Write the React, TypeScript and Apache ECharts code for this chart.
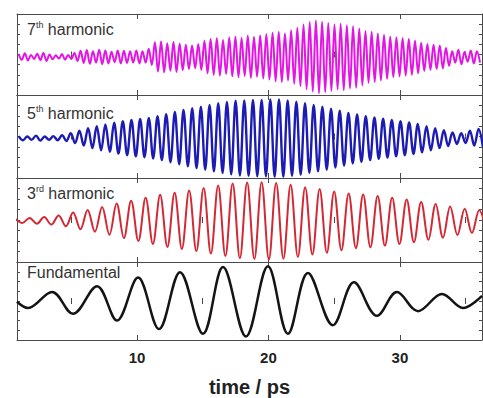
import React, { useEffect, useRef } from "react";
import * as echarts from "echarts";

// ---------- axis data ----------
const X_MIN = 0.875;
const X_MAX = 36.24;
const xMajorTicks = [10, 20, 30];
const xMinorTicks = [5, 15, 25, 35];
const xTitle = "time / ps";

// ---------- panel labels (top to bottom) ----------
const labelNumbers = ["7", "5", "3", ""];
const labelSups = ["th", "th", "rd", ""];
const labelRests = [" harmonic", " harmonic", " harmonic", "Fundamental"];
const seriesNames = ["7th harmonic", "5th harmonic", "3rd harmonic", "Fundamental"];
const seriesColors = ["#E414E4", "#1C1CB4", "#D42834", "#141414"];

// ---------- Fundamental: extrema ----------
const fundTimes = [0.87, 1.71, 3.54, 5.13, 6.96, 8.48, 10.08, 11.67, 13.27, 15.02, 16.54, 18.29, 19.96, 21.48, 23.0, 24.9, 26.5, 28.25, 29.77, 31.37, 33.2, 34.79, 36.24];
const fundValues = [-0.02, -0.18, 0.23, -0.33, 0.38, -0.5, 0.6, -0.72, 0.74, -0.84, 0.87, -0.91, 0.89, -0.84, 0.72, -0.62, 0.48, -0.38, 0.23, -0.26, 0.18, -0.18, 0.13];

// ---------- 3rd harmonic: per-cycle amplitude ----------
const h3FirstCrest = 0.73;
const h3Period = 1.103;
const h3Baseline = -0.02;
const h3Amps = [0.05, 0.07, 0.09, 0.13, 0.2, 0.26, 0.33, 0.41, 0.48, 0.55, 0.62, 0.67, 0.72, 0.78, 0.84, 0.89, 0.91, 0.92, 0.9, 0.86, 0.8, 0.76, 0.7, 0.65, 0.63, 0.59, 0.55, 0.51, 0.45, 0.4, 0.34, 0.29, 0.25];

// ---------- 5th harmonic: per-cycle amplitude ----------
const h5FirstCrest = 1.0;
const h5Period = 0.66;
const h5Baseline = -0.04;
const h5Amps = [0.05, 0.04, 0.06, 0.04, 0.05, 0.07, 0.12, 0.18, 0.24, 0.29, 0.33, 0.37, 0.41, 0.44, 0.46, 0.49, 0.53, 0.58, 0.63, 0.68, 0.72, 0.76, 0.8, 0.84, 0.87, 0.9, 0.91, 0.92, 0.92, 0.93, 0.93, 0.91, 0.88, 0.84, 0.8, 0.76, 0.71, 0.66, 0.61, 0.57, 0.53, 0.5, 0.47, 0.44, 0.41, 0.38, 0.34, 0.29, 0.24, 0.19, 0.14, 0.12, 0.18, 0.22];

// ---------- 7th harmonic: per-cycle amplitude ----------
const h7FirstCrest = 1.0;
const h7Period = 0.471;
const h7Baseline = -0.06;
const h7Amps = [0.07, 0.09, 0.05, 0.08, 0.1, 0.06, 0.04, 0.07, 0.05, 0.1, 0.15, 0.17, 0.14, 0.18, 0.16, 0.13, 0.16, 0.15, 0.14, 0.16, 0.14, 0.2, 0.36, 0.38, 0.34, 0.37, 0.33, 0.3, 0.28, 0.32, 0.4, 0.44, 0.46, 0.42, 0.48, 0.5, 0.47, 0.52, 0.49, 0.53, 0.56, 0.6, 0.62, 0.58, 0.66, 0.72, 0.8, 0.86, 0.9, 0.87, 0.84, 0.8, 0.82, 0.78, 0.76, 0.7, 0.64, 0.62, 0.58, 0.54, 0.5, 0.48, 0.46, 0.44, 0.4, 0.35, 0.32, 0.3, 0.28, 0.22, 0.14, 0.18, 0.12, 0.16, 0.14];

function waveFromCycles(firstCrest: number, period: number, amps: number[], base: number) {
  const pts: number[][] = [];
  amps.forEach((a, k) => {
    pts.push([firstCrest + k * period, base + a]);
    pts.push([firstCrest + (k + 0.5) * period, base - a]);
  });
  return pts;
}

const FONT = "'Liberation Sans', Arial, Helvetica, sans-serif";

export default function App() {
  const ref = useRef<HTMLDivElement>(null);

  useEffect(() => {
    if (!ref.current) return;
    const chart = echarts.init(ref.current, undefined, { renderer: "svg" });

    const gridTops = [14, 95, 178, 262];
    const gridHeights = [81, 83, 84, 81];
    const frame = { color: "#4a4a4a", width: 1 };

    const grids = gridTops.map((t, i) => ({ left: 17, right: 1, top: t, height: gridHeights[i] }));

    const xAxes: any[] = [];
    const yAxes: any[] = [];
    for (let i = 0; i < 4; i++) {
      const base = {
        type: "value",
        gridIndex: i,
        min: X_MIN,
        max: X_MAX,
        splitLine: { show: false },
      };
      xAxes.push({
        ...base,
        position: "bottom",
        axisLine: { show: true, onZero: false, lineStyle: frame },
        axisTick: { show: true, inside: true, length: 5, customValues: xMajorTicks, lineStyle: frame },
        axisLabel:
          i === 3
            ? { show: true, customValues: xMajorTicks, margin: 10, fontFamily: FONT, fontWeight: "bold", fontSize: 15, color: "#222" }
            : { show: false },
        name: i === 3 ? xTitle : "",
        nameLocation: "middle",
        nameGap: 37,
        nameTextStyle: { fontFamily: FONT, fontWeight: "bold", fontSize: 20, color: "#222" },
      });
      xAxes.push({
        ...base,
        position: "top",
        axisLine: { show: true, onZero: false, lineStyle: frame },
        axisTick: { show: true, inside: true, length: 5, customValues: xMajorTicks, lineStyle: frame },
        axisLabel: { show: false },
      });
      xAxes.push({
        ...base,
        position: "bottom",
        axisLine: { show: false },
        axisTick: { show: true, inside: true, length: 3, customValues: xMinorTicks, lineStyle: frame },
        axisLabel: { show: false },
      });
      xAxes.push({
        ...base,
        position: "top",
        axisLine: { show: false },
        axisTick: { show: true, inside: true, length: 3, customValues: xMinorTicks, lineStyle: frame },
        axisLabel: { show: false },
      });
      const ybase = {
        type: "value",
        gridIndex: i,
        min: -1,
        max: 1,
        interval: 0.25,
        splitLine: { show: false },
        axisLabel: { show: false },
        axisLine: { show: true, onZero: false, lineStyle: frame },
        axisTick: { show: true, inside: true, length: 3, lineStyle: frame },
      };
      yAxes.push({ ...ybase, position: "left" });
      yAxes.push({ ...ybase, position: "right" });
    }

    const seriesData = [
      waveFromCycles(h7FirstCrest, h7Period, h7Amps, h7Baseline),
      waveFromCycles(h5FirstCrest, h5Period, h5Amps, h5Baseline),
      waveFromCycles(h3FirstCrest, h3Period, h3Amps, h3Baseline),
      fundTimes.map((t, k) => [t, fundValues[k]]),
    ];
    const widths = [2.0, 2.4, 2.0, 2.5];

    const series = seriesData.map((d, i) => ({
      type: "line",
      name: seriesNames[i],
      xAxisIndex: i * 4,
      yAxisIndex: i * 2,
      data: d,
      smooth: 0.36,
      showSymbol: false,
      symbol: "none",
      clip: true,
      lineStyle: { color: seriesColors[i], width: widths[i] },
    }));

    const labelY = [29.5, 113, 193, 272];
    const graphic = labelRests.map((rest, i) => ({
      type: "text",
      x: 27,
      y: labelY[i],
      z: 100,
      style: {
        text: labelNumbers[i]
          ? `{a|${labelNumbers[i]}}{s|${labelSups[i]}}{a|${rest}}`
          : `{a|${rest}}`,
        verticalAlign: "middle",
        rich: {
          a: { fontSize: 16, fontFamily: FONT, fill: "#333", lineHeight: 18 },
          s: { fontSize: 9, fontFamily: FONT, fill: "#333", verticalAlign: "top", lineHeight: 18 },
        },
      },
    }));

    chart.setOption({
      animation: false,
      backgroundColor: "#ffffff",
      grid: grids,
      xAxis: xAxes,
      yAxis: yAxes,
      series,
      graphic,
    });

    return () => chart.dispose();
  }, []);

  return (
    <div
      ref={ref}
      style={{ position: "absolute", left: 0, top: 0, width: 483, height: 398 }}
    />
  );
}
